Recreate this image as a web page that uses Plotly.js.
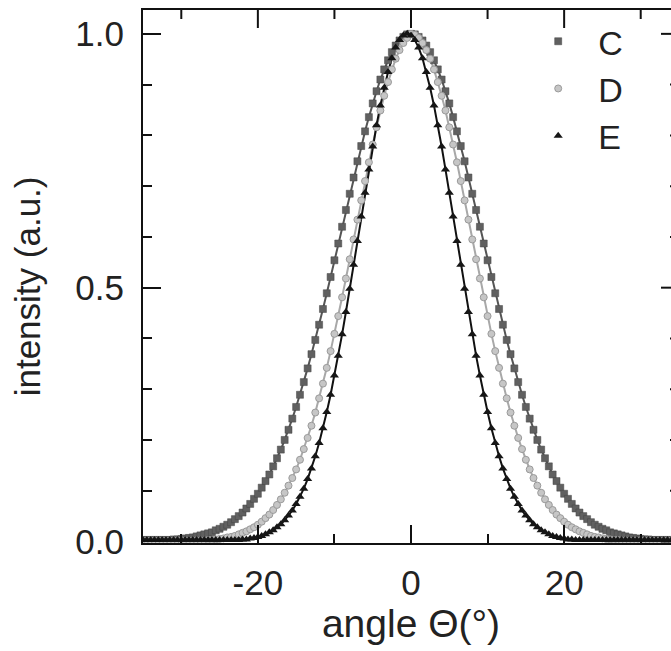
<!DOCTYPE html>
<html>
<head>
<meta charset="utf-8">
<script src="https://cdn.plot.ly/plotly-3.0.1.min.js"></script>
<style>
html,body{margin:0;padding:0;overflow:hidden;background:#fff;width:671px;height:651px;}
#chart{width:690px;height:651px;}
</style>
</head>
<body>
<div id="chart"></div>
<script>
// angle (degrees)
const angle = [
-35,-34.5,-34,-33.5,-33,-32.5,-32,-31.5,-31,-30.5,
-30,-29.5,-29,-28.5,-28,-27.5,-27,-26.5,-26,-25.5,
-25,-24.5,-24,-23.5,-23,-22.5,-22,-21.5,-21,-20.5,
-20,-19.5,-19,-18.5,-18,-17.5,-17,-16.5,-16,-15.5,
-15,-14.5,-14,-13.5,-13,-12.5,-12,-11.5,-11,-10.5,
-10,-9.5,-9,-8.5,-8,-7.5,-7,-6.5,-6,-5.5,
-5,-4.5,-4,-3.5,-3,-2.5,-2,-1.5,-1,-0.5,
0,
0.5,1,1.5,2,2.5,3,3.5,4,4.5,5,
5.5,6,6.5,7,7.5,8,8.5,9,9.5,10,
10.5,11,11.5,12,12.5,13,13.5,14,14.5,15,
15.5,16,16.5,17,17.5,18,18.5,19,19.5,20,
20.5,21,21.5,22,22.5,23,23.5,24,24.5,25,
25.5,26,26.5,27,27.5,28,28.5,29,29.5,30,
30.5,31,31.5,32,32.5,33,33.5,34,34.5,35
];

// series C
const seriesC = [
0.003,0.003,0.003,0.003,0.003,0.003,0.003,0.003,0.004,0.004,
0.005,0.006,0.007,0.008,0.010,0.012,0.014,0.016,0.018,0.022,
0.025,0.029,0.033,0.038,0.044,0.050,0.057,0.065,0.074,0.084,
0.094,0.106,0.119,0.132,0.148,0.164,0.181,0.200,0.220,0.242,
0.265,0.289,0.314,0.341,0.369,0.397,0.427,0.458,0.489,0.521,
0.554,0.587,0.620,0.653,0.685,0.717,0.749,0.779,0.808,0.836,
0.863,0.887,0.910,0.930,0.948,0.964,0.977,0.987,0.994,0.999,
1.000,
0.999,0.994,0.987,0.977,0.964,0.948,0.930,0.910,0.887,0.863,
0.836,0.808,0.779,0.749,0.717,0.685,0.653,0.620,0.587,0.554,
0.521,0.489,0.458,0.427,0.397,0.369,0.341,0.314,0.289,0.265,
0.242,0.220,0.200,0.181,0.164,0.148,0.132,0.119,0.106,0.094,
0.084,0.074,0.065,0.057,0.050,0.044,0.038,0.033,0.029,0.025,
0.022,0.018,0.016,0.014,0.012,0.010,0.008,0.007,0.006,0.005,
0.004,0.004,0.003,0.003,0.003,0.003,0.003,0.003,0.003,0.003
];

// series D
const seriesD = [
0.002,0.002,0.002,0.002,0.002,0.002,0.002,0.002,0.002,0.002,
0.002,0.002,0.002,0.002,0.002,0.002,0.002,0.003,0.003,0.004,
0.005,0.006,0.008,0.009,0.011,0.014,0.017,0.020,0.024,0.028,
0.033,0.039,0.046,0.053,0.062,0.072,0.083,0.096,0.110,0.125,
0.142,0.161,0.182,0.204,0.228,0.254,0.282,0.311,0.342,0.375,
0.409,0.444,0.481,0.518,0.556,0.595,0.634,0.672,0.710,0.747,
0.782,0.816,0.849,0.878,0.905,0.930,0.951,0.968,0.982,0.992,
1.000,
0.998,0.992,0.982,0.968,0.951,0.930,0.905,0.878,0.849,0.816,
0.782,0.747,0.710,0.672,0.634,0.595,0.556,0.518,0.481,0.444,
0.409,0.375,0.342,0.311,0.282,0.254,0.228,0.204,0.182,0.161,
0.142,0.125,0.110,0.096,0.083,0.072,0.062,0.053,0.046,0.039,
0.033,0.028,0.024,0.020,0.017,0.014,0.011,0.009,0.008,0.006,
0.005,0.004,0.003,0.003,0.002,0.002,0.002,0.002,0.002,0.002,
0.002,0.002,0.002,0.002,0.002,0.002,0.002,0.002,0.002,0.002
];

// series E
const seriesE = [
0.003,0.003,0.003,0.003,0.003,0.003,0.003,0.003,0.003,0.003,
0.003,0.003,0.003,0.003,0.003,0.003,0.003,0.003,0.003,0.003,
0.003,0.003,0.003,0.003,0.003,0.003,0.004,0.004,0.006,0.007,
0.009,0.011,0.014,0.018,0.022,0.028,0.034,0.042,0.051,0.061,
0.074,0.088,0.104,0.123,0.144,0.168,0.194,0.223,0.255,0.289,
0.327,0.366,0.408,0.452,0.498,0.545,0.592,0.640,0.687,0.733,
0.778,0.820,0.859,0.894,0.925,0.952,0.973,0.988,0.997,
1.000,
0.997,0.988,0.973,0.952,0.925,0.894,0.859,0.820,0.778,0.733,
0.687,0.640,0.592,0.545,0.498,0.452,0.408,0.366,0.327,0.289,
0.255,0.223,0.194,0.168,0.144,0.123,0.104,0.088,0.074,0.061,
0.051,0.042,0.034,0.028,0.022,0.018,0.014,0.011,0.009,0.007,
0.006,0.004,0.004,0.003,0.003,0.003,0.003,0.003,0.003,0.003,
0.003,0.003,0.003,0.003,0.003,0.003,0.003,0.003,0.003,0.003,
0.003,0.003,0.003,0.003,0.003,0.003,0.003,0.003,0.003,0.003,
0.003
];

const seriesNames = ['C', 'D', 'E'];
const xTickVals = [-20, 0, 20];
const xTickText = ['-20', '0', '20'];
const xMinorVals = [-30, -10, 10, 30];
const yTickVals = [0.0, 0.5, 1.0];
const yTickText = ['0.0', '0.5', '1.0'];
const yMinorVals = [0.1, 0.2, 0.3, 0.4, 0.6, 0.7, 0.8, 0.9];

const FONT = 'Liberation Sans, Arial, Helvetica, sans-serif';
const styles = [
  {line: '#555555', marker: {symbol: 'square', size: 7, color: '#606060', line: {width: 0.5, color: '#444'}}},
  {line: '#a8a8a8', marker: {symbol: 'circle', size: 7, color: '#c6c6c6', line: {width: 1, color: '#9a9a9a'}}},
  {line: '#111111', marker: {symbol: 'triangle-up', size: 8, color: '#161616', line: {width: 0}}}
];
const ys = [seriesC, seriesD, seriesE];

const traces = [];
ys.forEach((y, i) => {
  traces.push({x: angle, y: y, type: 'scatter', mode: 'lines', showlegend: false,
    line: {color: styles[i].line, width: 2}, hoverinfo: 'skip'});
});
ys.forEach((y, i) => {
  traces.push({x: angle, y: y, type: 'scatter', mode: 'markers', name: seriesNames[i],
    marker: styles[i].marker});
});

const W = 690, H = 651;
const MARGIN = {l: 143, r: 11, t: 10, b: 108};
const PLOT_H = H - MARGIN.t - MARGIN.b;
const XRANGE = [-35, 35];
const YRANGE = [-0.003, 1.047];
const MAJOR_LEN = 18, MINOR_LEN = 9;
const base = {showgrid: false, zeroline: false, tickwidth: 2, tickcolor: '#111'};
const xMinorIn = {dtick: 10, tick0: 0, ticklen: MINOR_LEN, tickwidth: 2, ticks: 'inside', tickcolor: '#111'};
const yMinorIn = {dtick: 0.1, tick0: 0, ticklen: MINOR_LEN, tickwidth: 2, ticks: 'inside', tickcolor: '#111'};

// frame ticks on the top and right edges (placed through the x / y axis scales)
const yPerPx = (YRANGE[1] - YRANGE[0]) / PLOT_H;
const frameTicks = [];
xTickVals.concat(xMinorVals).forEach(v => {
  const len = xTickVals.includes(v) ? MAJOR_LEN : MINOR_LEN;
  frameTicks.push({type: 'line', layer: 'above', xref: 'x', yref: 'y',
    x0: v, x1: v, y0: YRANGE[1], y1: YRANGE[1] - len * yPerPx,
    line: {color: '#111', width: 2}});
});
yTickVals.concat(yMinorVals).forEach(v => {
  const len = yTickVals.includes(v) ? MAJOR_LEN : MINOR_LEN;
  frameTicks.push({type: 'line', layer: 'above', xref: 'paper', yref: 'y',
    xsizemode: 'pixel', xanchor: 1, y0: v, y1: v, x0: 0, x1: -len,
    line: {color: '#111', width: 2}});
});

const layout = {
  width: W, height: H,
  margin: MARGIN,
  paper_bgcolor: '#fff', plot_bgcolor: '#fff',
  font: {family: FONT, color: '#222'},
  showlegend: true,
  legend: {x: 0.70, y: 0.995, xanchor: 'left', yanchor: 'top', bgcolor: 'rgba(0,0,0,0)',
    font: {family: FONT, size: 34, color: '#222'}, itemwidth: 70, tracegroupgap: 0},
  xaxis: Object.assign({}, base, {
    range: XRANGE, tickmode: 'array', tickvals: xTickVals, ticktext: xTickText,
    ticks: 'inside', ticklen: MAJOR_LEN,
    showline: true, linewidth: 2, linecolor: '#111', mirror: true,
    tickfont: {family: FONT, size: 35, color: '#222'},
    ticklabelstandoff: 8, minor: xMinorIn,
    title: {text: 'angle Θ(°)', font: {family: FONT, size: 39, color: '#222'}, standoff: 8}
  }),
  yaxis: Object.assign({}, base, {
    range: YRANGE, tickmode: 'array', tickvals: yTickVals, ticktext: yTickText,
    ticks: 'inside', ticklen: MAJOR_LEN,
    showline: true, linewidth: 2, linecolor: '#111', mirror: true,
    tickfont: {family: FONT, size: 35, color: '#222'},
    ticklabelstandoff: 10, minor: yMinorIn
  }),
  shapes: frameTicks,
  annotations: [{
    text: 'intensity (a.u.)', textangle: -90, xref: 'paper', yref: 'paper',
    x: -0.216, y: 0.482, xanchor: 'center', yanchor: 'middle', showarrow: false,
    font: {family: FONT, size: 35, color: '#222'}
  }]
};

Plotly.newPlot('chart', traces, layout, {displayModeBar: false, staticPlot: true});
</script>
</body>
</html>
